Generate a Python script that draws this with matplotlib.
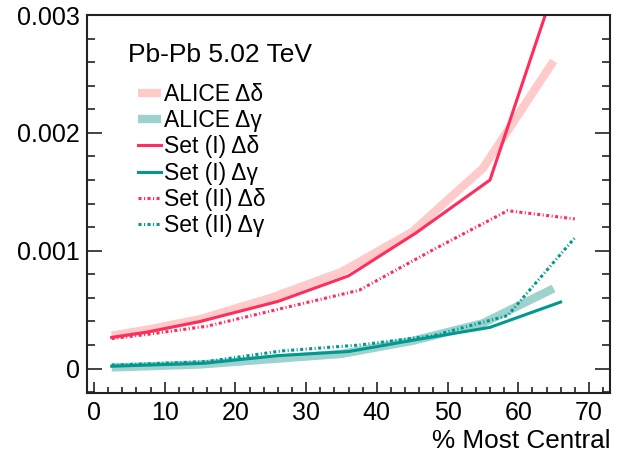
import matplotlib
matplotlib.use("Agg")
import matplotlib.pyplot as plt
from matplotlib.ticker import MultipleLocator, FuncFormatter

plt.rcParams['font.family'] = ['Liberation Sans', 'DejaVu Sans']

# centrality (%) and correlator values (x 1e-3)
alice_x = [2.5, 7.5, 15, 25, 35, 45, 55, 65]
alice_dd = [0.28, 0.33, 0.42, 0.60, 0.82, 1.16, 1.70, 2.61]
alice_dg = [0.01, 0.02, 0.035, 0.08, 0.125, 0.235, 0.385, 0.68]

set1_x_dd = [2.5, 7.5, 15, 26, 36, 45.5, 56, 65.5]
set1_dd = [0.265, 0.31, 0.40, 0.57, 0.787, 1.15, 1.60, 3.30]
set1_x_dg = [2.5, 7.5, 15.5, 26, 36, 45.5, 56, 66]
set1_dg = [0.02, 0.03, 0.045, 0.11, 0.145, 0.245, 0.35, 0.565]

set2_x = [2.5, 7.5, 16, 26.5, 37.5, 48, 58.5, 68]
set2_dd = [0.255, 0.29, 0.36, 0.51, 0.665, 1.01, 1.34, 1.27]
set2_dg = [0.03, 0.04, 0.06, 0.15, 0.20, 0.28, 0.45, 1.11]

pink = "#ff2d5c"
pink_light = "#ffcaca"
teal = "#00988f"
teal_light = "#9ed2cf"
dashdot = (0, (1.0, 0.8, 0.35, 0.8))

fig = plt.figure(figsize=(6.23, 4.55), dpi=100)
ax = fig.add_axes([0.1396, 0.137, 0.9794 - 0.1396, 0.967 - 0.137])

s = 1e-3
ax.plot(alice_x, [v * s for v in alice_dd], color=pink_light, lw=6, solid_capstyle='butt', label="ALICE Δδ")
ax.plot(alice_x, [v * s for v in alice_dg], color=teal_light, lw=6, solid_capstyle='butt', label="ALICE Δγ")
ax.plot(set1_x_dd, [v * s for v in set1_dd], color=pink, lw=2.2, label="Set (I) Δδ")
ax.plot(set1_x_dg, [v * s for v in set1_dg], color=teal, lw=2.2, label="Set (I) Δγ")
ax.plot(set2_x, [v * s for v in set2_dd], color=pink, lw=2.2, ls=dashdot, label="Set (II) Δδ")
ax.plot(set2_x, [v * s for v in set2_dg], color=teal, lw=2.2, ls=dashdot, label="Set (II) Δγ")

ax.set_xlim(-1, 73)
ax.set_ylim(-0.000204, 0.003)

ax.xaxis.set_major_locator(MultipleLocator(10))
ax.xaxis.set_minor_locator(MultipleLocator(2))
ax.yaxis.set_major_locator(MultipleLocator(0.001))
ax.yaxis.set_minor_locator(MultipleLocator(0.0002))
ax.yaxis.set_major_formatter(FuncFormatter(lambda v, p: "0" if abs(v) < 1e-9 else f"{v:.3f}"))

ax.tick_params(axis='both', which='both', direction='in', labelsize=18, width=1.2, color='#222222')
ax.tick_params(axis='x', which='major', length=8, pad=6)
ax.tick_params(axis='x', which='minor', length=4.3)
ax.tick_params(axis='y', which='major', length=11, pad=5, right=True)
ax.tick_params(axis='y', which='minor', length=5.7, right=True)
for sp in ax.spines.values():
    sp.set_linewidth(1.5)
    sp.set_color('#222222')

ax.set_xlabel("% Most Central", fontsize=18.8, loc='right', labelpad=3)

ax.text(0.078, 0.895, "Pb-Pb 5.02 TeV", transform=ax.transAxes, fontsize=19, va='center', ha='left')
ax.legend(loc='upper left', bbox_to_anchor=(0.098, 0.82), frameon=False, fontsize=16.5,
          handlelength=0.98, handletextpad=0.15, labelspacing=0.14, borderpad=0, borderaxespad=0)

fig.savefig("out.png", dpi=100)
